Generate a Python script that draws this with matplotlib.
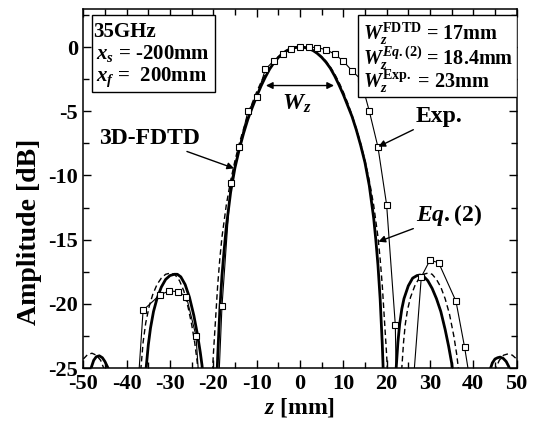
import matplotlib
matplotlib.use("Agg")
import matplotlib.pyplot as plt
from matplotlib.patches import Rectangle
from matplotlib.ticker import MultipleLocator

plt.rcParams["font.family"] = "Liberation Serif"
plt.rcParams["font.weight"] = "bold"
plt.rcParams["axes.unicode_minus"] = False
plt.rcParams["mathtext.fontset"] = "custom"
plt.rcParams["mathtext.rm"] = "Liberation Serif:bold"
plt.rcParams["mathtext.bf"] = "Liberation Serif:bold"
plt.rcParams["mathtext.it"] = "Liberation Serif:italic:bold"

# 3D-FDTD, main lobe
fdtd_main_z = [-19.6, -19.3, -19.0, -18.5, -18.0, -17.5, -17.0, -16.0, -15.0, -14.0, -13.0, -12.0,
               -11.0, -10.0, -9.0, -8.0, -7.0, -6.0, -5.0, -4.0, -3.0, -2.0, -1.0, 0.0,
               1.0, 2.0, 3.0, 4.0, 5.0, 6.0, 7.0, 8.0, 9.0, 10.0, 11.0, 12.0,
               13.0, 14.0, 15.0, 16.0, 17.0, 17.5, 18.0, 18.5, 19.0, 19.3, 19.6]
fdtd_main_db = [-30.0, -27.0, -24.2, -20.5, -17.8, -15.8, -14.0, -11.3, -9.4, -7.95, -6.7, -5.6,
                -4.7, -3.85, -3.05, -2.35, -1.72, -1.22, -0.82, -0.5, -0.27, -0.12, -0.03, 0.0,
                -0.03, -0.12, -0.27, -0.5, -0.8, -1.18, -1.65, -2.25, -2.95, -3.7, -4.55, -5.4,
                -6.45, -7.65, -9.0, -10.8, -13.3, -15.0, -17.0, -19.6, -23.2, -26.0, -30.0]

# 3D-FDTD, side lobes
fdtd_left_z = [-35.8, -35.5, -35.0, -34.5, -33.8, -33.0, -32.0, -31.0, -30.0, -29.0, -28.3, -27.5,
               -26.5, -25.5, -24.5, -23.6, -23.0, -22.6, -22.3, -22.0]
fdtd_left_db = [-28.0, -25.0, -23.2, -21.9, -20.6, -19.6, -18.7, -18.1, -17.8, -17.7, -17.7, -17.9,
                -18.5, -19.5, -20.9, -22.5, -23.8, -24.8, -26.0, -28.0]
fdtd_right_z = [21.9, 22.2, 22.6, 23.0, 23.5, 24.0, 25.0, 26.0, 27.0, 27.7, 28.5, 29.5,
                30.5, 31.5, 32.5, 33.5, 34.3, 35.0, 35.4, 35.7]
fdtd_right_db = [-28.0, -25.0, -23.0, -21.6, -20.4, -19.6, -18.6, -18.0, -17.8, -17.76, -17.85, -18.2,
                 -18.8, -19.6, -20.6, -22.0, -23.3, -24.6, -25.8, -28.0]
fdtd_far_left_z = [-48.8, -48.2, -47.6, -47.0, -46.3, -45.6, -45.0, -44.3, -43.8, -43.4]
fdtd_far_left_db = [-27.0, -25.0, -24.4, -24.12, -24.05, -24.2, -24.5, -25.0, -25.8, -27.0]
fdtd_far_right_z = [43.4, 43.8, 44.4, 45.0, 45.6, 46.2, 46.9, 47.6, 48.2, 48.8, 49.2]
fdtd_far_right_db = [-27.0, -25.2, -24.6, -24.3, -24.2, -24.15, -24.25, -24.5, -24.9, -25.6, -27.0]

# Eq.(2)
eq_main_z = [-20.6, -20.3, -20.0, -19.5, -19.0, -18.5, -18.0, -17.0, -16.0, -15.0, -14.0, -13.0,
             -12.0, -11.0, -10.0, -9.0, -8.0, -7.0, -6.0, -5.0, -4.0, -3.0, -2.0, -1.0, 0.0,
             1.0, 2.0, 3.0, 4.0, 5.0, 6.0, 7.0, 8.0, 9.0, 10.0, 11.0, 12.0, 13.0,
             14.0, 15.0, 16.0, 17.0, 18.0, 18.5, 19.0, 19.5, 20.0, 20.3, 20.6]
eq_main_db = [-30.0, -26.0, -24.0, -21.3, -18.6, -16.5, -14.8, -12.3, -10.4, -8.85, -7.5, -6.35,
              -5.3, -4.35, -3.5, -2.75, -2.1, -1.55, -1.1, -0.76, -0.48, -0.27, -0.12, -0.03, 0.0,
              -0.03, -0.12, -0.27, -0.48, -0.76, -1.1, -1.55, -2.1, -2.75, -3.5, -4.35, -5.3, -6.35,
              -7.5, -8.85, -10.4, -12.3, -14.8, -16.5, -18.6, -21.3, -24.0, -26.0, -30.0]
eq_left_z = [-37.0, -36.7, -36.2, -35.6, -34.8, -34.0, -33.0, -32.0, -31.0, -29.8, -28.8, -27.8,
             -26.8, -25.8, -25.0, -24.3, -23.8, -23.4, -23.1]
eq_left_db = [-28.0, -25.0, -23.0, -21.5, -20.2, -19.3, -18.5, -18.0, -17.7, -17.6, -17.75, -18.2,
              -19.0, -20.3, -21.6, -23.0, -24.3, -25.5, -28.0]
eq_right_z = [23.2, 23.5, 23.9, 24.3, 24.8, 25.5, 26.5, 27.5, 28.5, 29.6, 30.5, 31.5, 32.5,
              33.5, 34.5, 35.5, 36.2, 36.6, 36.9]
eq_right_db = [-28.0, -25.0, -23.0, -21.6, -20.5, -19.5, -18.6, -18.0, -17.7, -17.6, -17.7, -18.1, -18.7,
               -19.6, -20.8, -22.5, -24.0, -25.2, -27.0]
eq_far_left_z = [-50.0, -49.0, -48.0, -47.0, -46.0, -45.3, -44.8]
eq_far_left_db = [-24.3, -23.95, -23.85, -24.0, -24.4, -25.0, -26.0]
eq_far_right_z = [44.7, 45.2, 46.0, 47.0, 48.0, 49.0, 50.0]
eq_far_right_db = [-26.0, -25.0, -24.4, -24.0, -23.9, -24.0, -24.3]

# Measurement
exp_z = [-38.0, -36.2, -32.3, -30.2, -28.1, -26.2, -24.0, -22.0, -20.0, -18.0, -16.0, -14.0,
         -12.0, -10.0, -8.0, -6.0, -4.0, -2.0, 0.0, 2.0, 4.0, 6.0, 8.0, 10.0, 12.0, 14.0,
         16.0, 18.0, 20.0, 22.0, 24.0, 26.0, 28.0, 30.0, 32.0, 36.0, 38.0, 40.0]
exp_db = [-29.5, -20.5, -19.3, -19.0, -19.05, -19.45, -22.5, -32.5, -36.0, -20.2, -10.6, -7.8,
          -5.0, -3.9, -1.75, -1.05, -0.55, -0.18, 0.0, 0.0, -0.05, -0.2, -0.55, -1.1, -1.85, -2.5,
          -5.0, -7.8, -12.3, -21.65, -60.0, -26.8, -17.9, -16.6, -16.8, -19.8, -23.4, -27.6]

fig = plt.figure(figsize=(5.47, 4.25), dpi=100)
ax = fig.add_axes([0.1523, 0.1341, 0.7922, 0.8459])

for zz, dd in [(fdtd_main_z, fdtd_main_db), (fdtd_left_z, fdtd_left_db), (fdtd_right_z, fdtd_right_db),
               (fdtd_far_left_z, fdtd_far_left_db), (fdtd_far_right_z, fdtd_far_right_db)]:
    ax.plot(zz, dd, color="black", lw=2.0)
for zz, dd in [(eq_main_z, eq_main_db), (eq_left_z, eq_left_db), (eq_right_z, eq_right_db),
               (eq_far_left_z, eq_far_left_db), (eq_far_right_z, eq_far_right_db)]:
    ax.plot(zz, dd, color="black", lw=1.0, ls=(0, (4, 2.5)))
ax.plot(exp_z, exp_db, color="black", lw=0.8, marker="s", ms=4.5, mfc="white", mec="black", mew=0.8)

ax.set_xlim(-50, 50)
ax.set_ylim(-25, 3)
ax.xaxis.set_major_locator(MultipleLocator(10))
ax.xaxis.set_minor_locator(MultipleLocator(5))
ax.yaxis.set_major_locator(MultipleLocator(5))
ax.yaxis.set_minor_locator(MultipleLocator(2.5))
ax.tick_params(which="both", direction="in", top=True, right=True, width=1.0, labelsize=16)
ax.tick_params(which="major", length=6, pad=4)
ax.tick_params(which="minor", length=4)
for s in ax.spines.values():
    s.set_linewidth(1.1)
for lab in ax.get_xticklabels() + ax.get_yticklabels():
    lab.set_fontweight("bold")

ax.set_xlabel("$z$ [mm]", fontsize=17, fontweight="bold", labelpad=2)
ax.set_ylabel("Amplitude [dB]", fontsize=20, fontweight="bold")
ax.yaxis.set_label_coords(-0.095, 0.378)

# info boxes
ax.add_patch(Rectangle((0.019, 0.769), 0.285, 0.214, transform=ax.transAxes,
                       fc="white", ec="black", lw=1.0, zorder=5))
ax.text(-47.7, 1.15, "35GHz", fontsize=15, va="center", zorder=6)
ax.text(-47.0, -0.5, "$x_s$ = -200mm", fontsize=15, va="center", zorder=6)
ax.text(-47.0, -2.35, "$x_f$ =  200mm", fontsize=15, va="center", zorder=6)

ax.add_patch(Rectangle((0.635, 0.755), 0.365, 0.228, transform=ax.transAxes,
                       fc="white", ec="black", lw=1.0, zorder=5))
ax.text(14.6, 1.0, r"$W_z^{\mathrm{FDTD}}$ = 17mm", fontsize=14.5, va="center", zorder=6)
ax.text(14.6, -0.85, r"$W_z^{Eq.\mathrm{(2)}}$ = 18.4mm", fontsize=14.5, va="center", zorder=6)
ax.text(14.6, -2.7, r"$W_z^{\mathrm{Exp.}}$ = 23mm", fontsize=14.5, va="center", zorder=6)

# annotations
ax.annotate("", xy=(8.5, -3.0), xytext=(-8.5, -3.0),
            arrowprops=dict(arrowstyle="<|-|>", color="black", lw=1.0, mutation_scale=10))
ax.text(-0.8, -4.4, "$W_z$", fontsize=17, ha="center", va="center")
ax.annotate("3D-FDTD", xy=(-15.2, -9.45), xytext=(-23.0, -7.1), fontsize=17, ha="right", va="center",
            arrowprops=dict(arrowstyle="-|>", color="black", lw=1.0, mutation_scale=10, shrinkA=0, shrinkB=0))
ax.annotate("Exp.", xy=(18.1, -7.76), xytext=(26.8, -5.45), fontsize=17, ha="left", va="center",
            arrowprops=dict(arrowstyle="-|>", color="black", lw=1.0, mutation_scale=10, shrinkA=0, shrinkB=0))
ax.annotate(r"$Eq.$(2)", xy=(18.1, -15.16), xytext=(26.8, -13.1), fontsize=17, ha="left", va="center",
            arrowprops=dict(arrowstyle="-|>", color="black", lw=1.0, mutation_scale=10, shrinkA=0, shrinkB=0))

fig.savefig("out.png", dpi=100)
